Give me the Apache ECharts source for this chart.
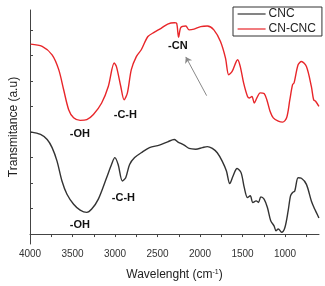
<!DOCTYPE html>
<html lang="en">
<head>
    <meta charset="UTF-8">
    <title>FTIR</title>
    <script src="https://cdn.jsdelivr.net/npm/echarts@6/dist/echarts.min.js"></script>
</head>
<body style="margin:0;">
<div id="chartContainer" style="width:325px;height:286px;"></div>
<script type="text/javascript">
    // 波数 / 透过率 (a.u)
    var cncWave = [3993, 3876, 3798, 3740, 3682, 3624, 3565, 3487, 3410, 3332, 3274, 3196, 3099, 3041, 3002, 2963,
        2913, 2874, 2828, 2769, 2691, 2594, 2478, 2380, 2303, 2263, 2186, 2128, 2050, 1972, 1914, 1855, 1797, 1739,
        1689, 1650, 1611, 1564, 1517, 1479, 1441, 1409, 1378, 1339, 1312, 1284, 1246, 1207, 1168, 1129, 1106, 1079,
        1040, 1001, 963, 935, 911, 885, 846, 807, 748, 690, 651, 632, 601];
    var cncT = [4.01, 3.91, 3.71, 3.39, 2.86, 2.08, 1.56, 1.17, 0.94, 0.85, 0.98, 1.37, 2.21, 2.73, 3.00, 2.73,
        2.08, 2.21, 2.73, 3.00, 3.19, 3.39, 3.49, 3.62, 3.71, 3.62, 3.49, 3.36, 3.33, 3.39, 3.43, 3.36, 3.19, 2.86,
        2.47, 1.98, 2.28, 2.57, 2.41, 1.82, 1.43, 1.50, 1.24, 1.30, 1.24, 1.46, 1.37, 1.04, 0.52, 0.32, 0.13, 0.20,
        0.07, 0.26, 0.91, 1.50, 1.63, 1.69, 2.21, 2.19, 1.95, 1.30, 0.98, 0.85, 0.63];

    var cnWave = [3993, 3857, 3740, 3662, 3604, 3545, 3487, 3410, 3332, 3254, 3157, 3079, 3009, 2983, 2932, 2893,
        2854, 2808, 2749, 2691, 2613, 2536, 2458, 2380, 2303, 2275, 2252, 2225, 2167, 2128, 2070, 1992, 1914, 1837,
        1759, 1700, 1662, 1622, 1557, 1526, 1487, 1441, 1417, 1389, 1362, 1331, 1292, 1246, 1214, 1176, 1138, 1079,
        1028, 981, 943, 911, 893, 846, 807, 748, 690, 663, 640, 601];
    var cnT = [7.45, 7.36, 7.03, 6.45, 5.66, 4.88, 4.56, 4.46, 4.49, 4.69, 5.14, 5.79, 6.71, 6.57, 5.79, 5.27,
        5.54, 6.45, 6.96, 7.23, 7.75, 7.92, 8.07, 8.24, 8.29, 8.27, 7.72, 8.11, 8.16, 8.01, 8.04, 8.14, 8.16, 8.01,
        7.55, 6.90, 6.25, 6.38, 6.84, 6.57, 5.93, 5.40, 5.34, 5.40, 5.14, 5.34, 5.54, 5.51, 5.27, 4.82, 4.56, 4.43,
        4.39, 4.56, 5.27, 5.86, 5.93, 6.64, 6.77, 6.57, 5.79, 5.27, 5.21, 5.01];

    var xLabels = [4000, 3500, 3000, 2500, 2000, 1500, 1000];
    var xTicks = [4000, 3750, 3500, 3250, 3000, 2750, 2500, 2250, 2000, 1750, 1500, 1250, 1000, 750];
    var yTicks = [0, 1, 2, 3, 4, 5, 6, 7, 8];

    // 峰的标注
    var cnMarks = [['-OH', 3414, 3.91], ['-C-H', 2878, 4.69], ['-CN', 2260, 7.38]];
    var cncMarks = [['-OH', 3414, 0.35], ['-C-H', 2901, 1.41]];
    var arrowFrom = [1922, 5.43];
    var arrowTo = [2167, 6.95];

    function zip(xs, ys) {
        return xs.map(function (x, i) { return [x, ys[i]]; });
    }

    function marks(list) {
        return list.map(function (m) {
            return {coord: [m[1], m[2]], value: m[0]};
        });
    }

    var markLabel = {
        show: true,
        position: 'inside',
        formatter: '{c}',
        color: '#111',
        fontSize: 11,
        fontWeight: 'bold',
        fontFamily: 'Liberation Sans'
    };

    var chartDom = document.getElementById('chartContainer');
    var myChart = echarts.init(chartDom);
    var option = {
        animation: false,
        textStyle: {fontFamily: 'Liberation Sans'},
        grid: {left: 28, right: 6, top: 10, bottom: 41},
        legend: {
            orient: 'vertical',
            left: 233,
            top: 7,
            padding: [1, 6, 1, 4],
            itemWidth: 28,
            itemHeight: 12,
            itemGap: 3,
            itemStyle: {opacity: 0},
            lineStyle: {width: 1.2},
            borderColor: '#333',
            borderWidth: 1,
            textStyle: {fontSize: 12, color: '#222', padding: [0, 0, 0, -2]},
            data: ['CNC', 'CN-CNC']
        },
        xAxis: {
            type: 'value',
            inverse: true,
            min: 600,
            max: 4000,
            name: 'Wavelenght (cm{sup|-1})',
            nameLocation: 'middle',
            nameGap: 25,
            nameTextStyle: {
                fontSize: 12,
                color: '#222',
                rich: {sup: {fontSize: 7, verticalAlign: 'top', color: '#222'}}
            },
            axisLine: {lineStyle: {color: '#444'}},
            axisTick: {customValues: xTicks, length: 3, lineStyle: {color: '#444'}},
            axisLabel: {
                customValues: xLabels,
                fontSize: 10,
                color: '#333',
                margin: 5,
                formatter: function (v) { return String(v); }
            },
            splitLine: {show: false}
        },
        yAxis: {
            type: 'value',
            min: -0.39,
            max: 8.79,
            name: 'Transmitance (a.u)',
            nameLocation: 'middle',
            nameGap: 10,
            nameTextStyle: {fontSize: 12, color: '#222'},
            axisLine: {show: true, lineStyle: {color: '#444'}},
            axisTick: {show: true, inside: true, customValues: yTicks, length: 3, lineStyle: {color: '#444'}},
            axisLabel: {show: false},
            splitLine: {show: false}
        },
        series: [
            {
                name: 'CNC',
                type: 'line',
                data: zip(cncWave, cncT),
                symbol: 'none',
                smooth: 0.3,
                lineStyle: {color: '#333', width: 1.4},
                itemStyle: {color: '#333'},
                markPoint: {
                    symbol: 'circle',
                    symbolSize: 0,
                    label: markLabel,
                    emphasis: {disabled: true},
                    data: marks(cncMarks)
                }
            },
            {
                name: 'CN-CNC',
                type: 'line',
                data: zip(cnWave, cnT),
                symbol: 'none',
                smooth: 0.3,
                lineStyle: {color: '#e8262a', width: 1.4},
                itemStyle: {color: '#e8262a'},
                markPoint: {
                    symbol: 'circle',
                    symbolSize: 0,
                    label: markLabel,
                    emphasis: {disabled: true},
                    data: marks(cnMarks)
                },
                markLine: {
                    silent: true,
                    symbol: ['none', 'arrow'],
                    symbolSize: 6,
                    label: {show: false},
                    lineStyle: {color: '#888', width: 1, type: 'solid'},
                    emphasis: {disabled: true},
                    data: [[{coord: arrowFrom}, {coord: arrowTo}]]
                }
            }
        ]
    };
    option && myChart.setOption(option);
</script>
</body>
</html>
